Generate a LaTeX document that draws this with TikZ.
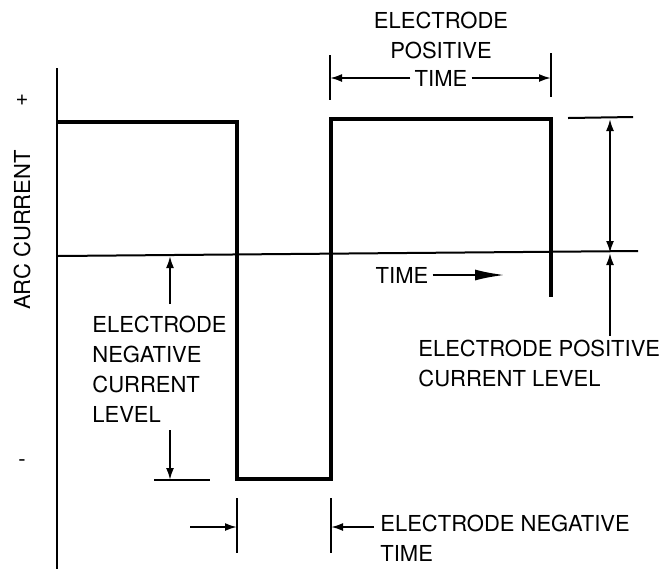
\documentclass[tikz,border=0pt]{standalone}
\usepackage{fontspec}
\setmainfont{TeX Gyre Heros}
\usetikzlibrary{arrows.meta,positioning}
\tikzset{
  >={Latex[length=6pt,width=4pt]},
  every node/.style={font=\fontsize{11}{15}\selectfont,inner sep=2pt},
  wave/.style={line width=2pt,line join=miter},
  guide/.style={line width=1pt},
  lbl/.style={align=left},
  bigarrow/.style={-{Latex[length=15pt,width=5.5pt]},line width=1.2pt},
}
\begin{document}
\begin{tikzpicture}[x=0.5pt,y=-0.5pt]
  \useasboundingbox (0,0) rectangle (668,569);
  \draw[guide] (57,68) -- (57,569);
  \draw[guide] (57,256) -- (638,251);
  \draw[wave] (57,122) -- (237,122) -- (237,479) -- (331,479) -- (331,119) -- (551,119) -- (551,297);
  \node (plus) at (22,100) {+};
  \node (minus) at (22,463) {-};
  \node[rotate=90] (ylab) at (22,230) {ARC CURRENT};
  \node (ptime) at (441,78) {TIME};
  \node[align=center,above=1pt of ptime] (ptitle) {ELECTRODE\\POSITIVE};
  \coordinate (pl) at (330,78);
  \coordinate (pr) at (551,78);
  \draw[guide] (330,55) -- (330,100);
  \draw[guide] (551,53) -- (551,97);
  \draw[guide,->] (ptime) -- (pl);
  \draw[guide,->] (ptime) -- (pr);
  \coordinate (rt) at (610,119);
  \coordinate (rz) at (610,253);
  \coordinate (rb) at (610,336);
  \draw[guide] (568,118) -- (633,117);
  \draw[guide,<->] (rt) -- (rz);
  \draw[guide,->] (rb) -- (rz);
  \node[lbl,anchor=north west] (pcur) at (414,336) {ELECTRODE POSITIVE\\CURRENT LEVEL};
  \node (taxis) at (402,275) {TIME};
  \coordinate (tend) at (505,275);
  \draw[bigarrow] (taxis) -- (tend);
  \node[lbl,anchor=west] (ncur) at (88,369) {ELECTRODE\\NEGATIVE\\CURRENT\\LEVEL};
  \coordinate (nz) at (170,256);
  \coordinate (nu) at (170,304);
  \coordinate (nd) at (170,430);
  \coordinate (nb) at (170,480);
  \draw[guide,->] (nu) -- (nz);
  \draw[guide,->] (nd) -- (nb);
  \draw[guide] (154,480) -- (210,480);
  \draw[guide] (237,498) -- (237,553);
  \draw[guide] (331,498) -- (331,553);
  \coordinate (bl0) at (190,527);
  \coordinate (bl) at (237,527);
  \coordinate (br0) at (374,527);
  \coordinate (br) at (331,527);
  \draw[guide,->] (bl0) -- (bl);
  \draw[guide,->] (br0) -- (br);
  \node[lbl,anchor=north west] (ntime) at (376,511) {ELECTRODE NEGATIVE\\TIME};
\end{tikzpicture}
\end{document}
